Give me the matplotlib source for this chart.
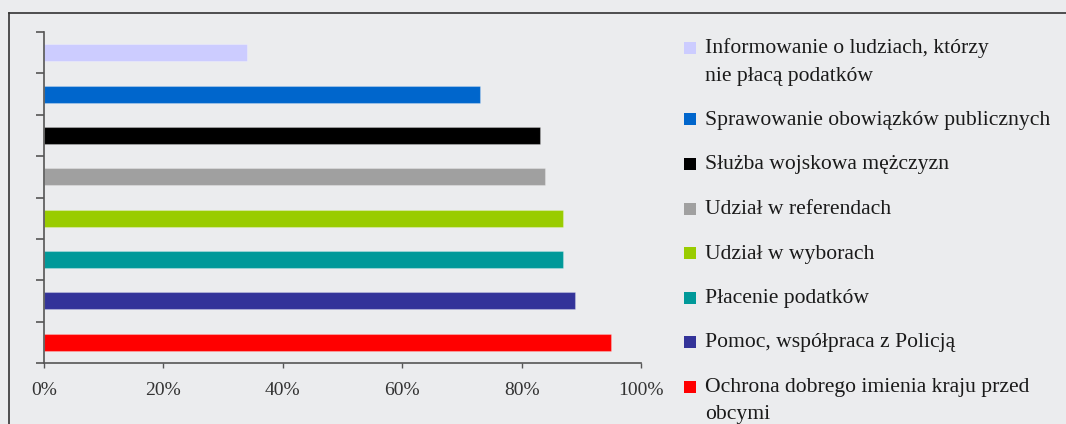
import matplotlib
matplotlib.use('Agg')
import matplotlib.pyplot as plt
from matplotlib.patches import Rectangle
from matplotlib.lines import Line2D

# categories top to bottom, as they appear in the chart
labels = [
    'Informowanie o ludziach, którzy\nnie płacą podatków',
    'Sprawowanie obowiązków publicznych',
    'Służba wojskowa mężczyzn',
    'Udział w referendach',
    'Udział w wyborach',
    'Płacenie podatków',
    'Pomoc, współpraca z Policją',
    'Ochrona dobrego imienia kraju przed\nobcymi',
]
values = [34, 73, 83, 84, 87, 87, 89, 95]
colors = ['#ccccff', '#0066cc', '#000000', '#a0a0a0',
          '#99cc00', '#009999', '#333399', '#ff0000']
xticks = [0, 20, 40, 60, 80, 100]

W, H = 1066, 424
bg = '#ebecee'
plt.rcParams['font.family'] = ['Liberation Serif', 'DejaVu Serif']

fig = plt.figure(figsize=(W / 100, H / 100), dpi=100, facecolor=bg)

# outer frame (cropped at right and bottom)
fig.add_artist(Line2D([9 / W, 1], [1 - 13 / H, 1 - 13 / H], color='#333333', lw=1.2))
fig.add_artist(Line2D([9 / W, 9 / W], [0, 1 - 13 / H], color='#333333', lw=1.2))

ax = fig.add_axes([44 / W, 1 - 363 / H, (641 - 44) / W, (363 - 32) / H])
ax.set_facecolor(bg)

n = len(values)
pos = [n - 1 - i for i in range(n)]
ax.barh(pos, values, height=0.41, color=colors, edgecolor=(1, 1, 1, 0.25), linewidth=0.8)

ax.set_xlim(0, 100)
ax.set_ylim(-0.5, n - 0.5)
ax.set_xticks(xticks)
ax.set_xticklabels([f'{t}%' for t in xticks])
ax.set_yticks([i - 0.5 for i in range(n + 1)])
ax.set_yticklabels([])
for s in ['top', 'right']:
    ax.spines[s].set_visible(False)
for s in ['left', 'bottom']:
    ax.spines[s].set_color('#555555')
    ax.spines[s].set_linewidth(1.2)
ax.tick_params(axis='y', direction='out', length=6, width=1.2, color='#555555')
ax.tick_params(axis='x', direction='out', length=3.5, width=1.0, color='#555555',
               labelsize=14, labelcolor='#333333', pad=10)

# legend drawn by hand, entries top to bottom
y = 48
for lab, col in zip(labels, colors):
    fig.add_artist(Rectangle((684 / W, 1 - (y + 6) / H), 12 / W, 12 / H,
                             facecolor=col, edgecolor='none'))
    lines = lab.split('\n')
    for k, ln in enumerate(lines):
        fig.text(705 / W, 1 - (y + 5.5 + k * 27) / H, ln, fontsize=15.6,
                 color='#1a1a1a', va='baseline', ha='left')
    y += (len(lines) - 1) * 27 + 44.5

fig.savefig('out.png', dpi=100, facecolor=bg)
